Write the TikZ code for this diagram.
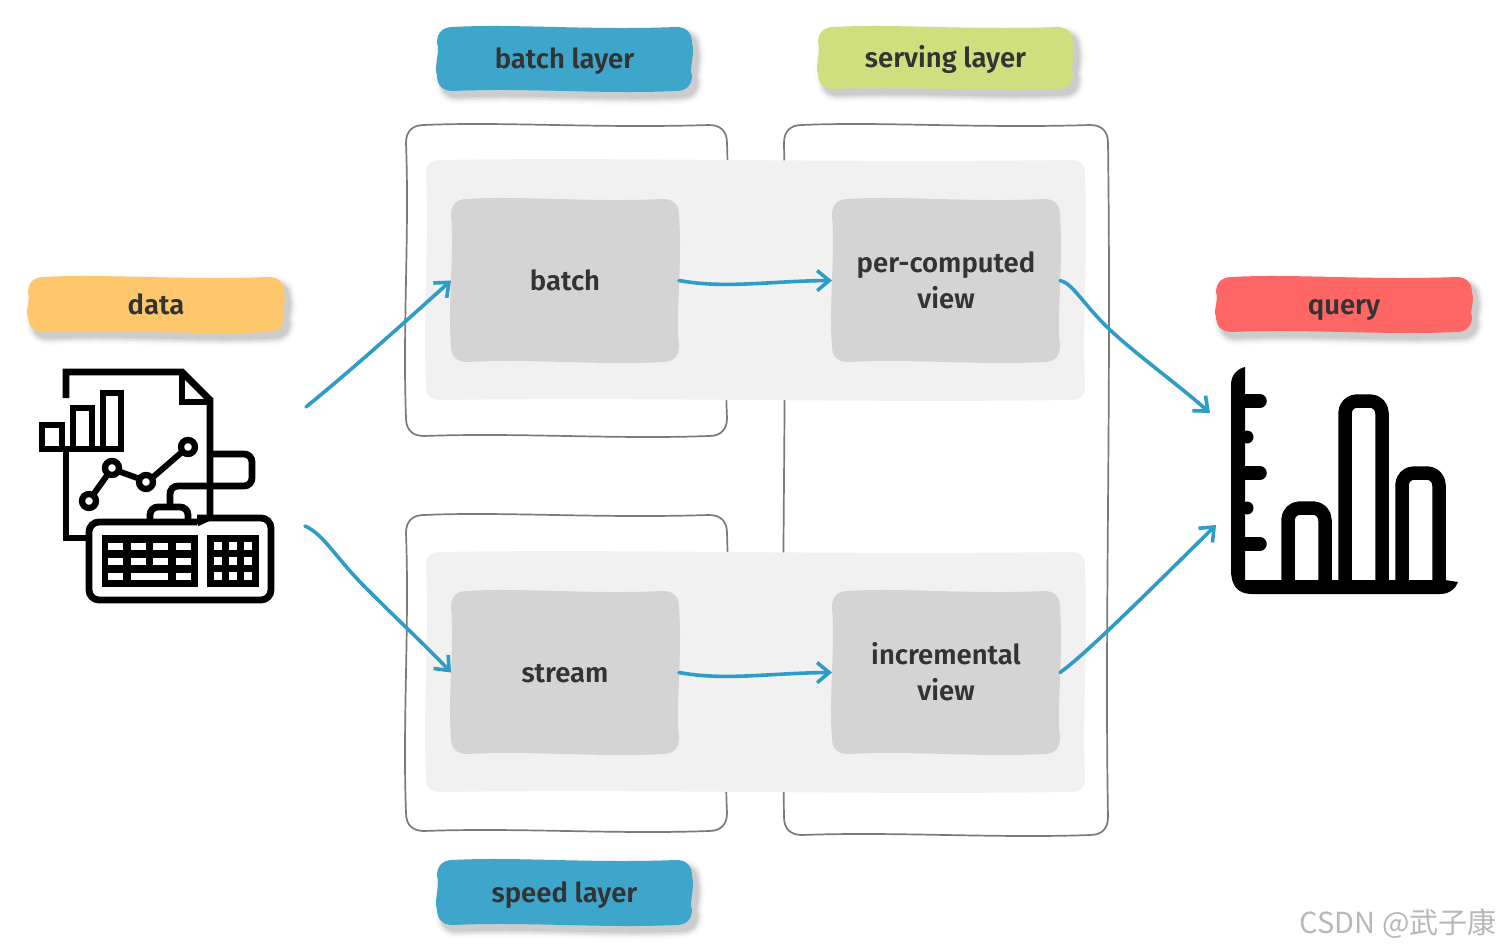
\documentclass[tikz,border=0pt]{standalone}
\usepackage{fontspec}
\setmainfont{Fira Sans}[UprightFont=* SemiBold,BoldFont=* Bold]
\newfontfamily\cjkwm{Noto Sans CJK SC}
\usetikzlibrary{arrows.meta}
\definecolor{cblue}{HTML}{3EA6CB}
\definecolor{cgreen}{HTML}{D0DF7E}
\definecolor{corange}{HTML}{FFC76B}
\definecolor{cred}{HTML}{FF6666}
\definecolor{clight}{HTML}{F1F1F1}
\definecolor{cinner}{HTML}{D4D4D4}
\definecolor{cframe}{HTML}{7A7A7A}
\definecolor{carrow}{HTML}{2E9CC7}
\definecolor{ctext}{HTML}{333333}
\newcommand\blobset[6]{%
  \pgfmathsetmacro\bxa{#1}\pgfmathsetmacro\bya{#2}\pgfmathsetmacro\bxb{#3}\pgfmathsetmacro\byb{#4}%
  \pgfmathsetmacro\brr{#5}\def\bam{#6}%
  \pgfmathsetmacro\bw{\bxb-\bxa}\pgfmathsetmacro\bh{\byb-\bya}}
\newcommand\blobdo[1]{%
  \path[#1] ({\bxa+\brr},\bya)
   .. controls ({\bxa+.3*\bw},{\bya-\bam}) and ({\bxa+.6*\bw},{\bya+\bam}) .. ({\bxb-\brr},\bya)
   .. controls ({\bxb-.35*\brr},\bya) and (\bxb,{\bya+.35*\brr}) .. (\bxb,{\bya+\brr})
   .. controls ({\bxb+\bam},{\bya+.4*\bh}) and ({\bxb-\bam},{\bya+.7*\bh}) .. (\bxb,{\byb-\brr})
   .. controls (\bxb,{\byb-.35*\brr}) and ({\bxb-.35*\brr},\byb) .. ({\bxb-\brr},\byb)
   .. controls ({\bxa+.65*\bw},{\byb+\bam}) and ({\bxa+.35*\bw},{\byb-\bam}) .. ({\bxa+\brr},\byb)
   .. controls ({\bxa+.35*\brr},\byb) and (\bxa,{\byb-.35*\brr}) .. (\bxa,{\byb-\brr})
   .. controls ({\bxa-\bam},{\bya+.65*\bh}) and ({\bxa+\bam},{\bya+.35*\bh}) .. (\bxa,{\bya+\brr})
   .. controls (\bxa,{\bya+.35*\brr}) and ({\bxa+.35*\brr},\bya) .. ({\bxa+\brr},\bya) -- cycle;}
% [extra] name, x1,y1,x2,y2, colour, text
\newcommand\boxnode[8][]{%
  \blobset{#3}{#4}{#5}{#6}{16}{3.5}\blobdo{fill=#7}%
  \node[txt,#1,minimum width=#5pt-#3pt,minimum height=#6pt-#4pt] (#2) at ({(#3+#5)/2},{(#4+#6)/2}) {#8};}
\newcommand\tagnode[7]{%
  \blobset{#2}{#3}{#4}{#5}{16}{3.5}%
  \blobdo{shift={(5,6)},fill=black!2,draw=black!2,line width=14pt,line join=round}%
  \blobdo{shift={(5,6)},fill=black!5,draw=black!5,line width=10pt,line join=round}%
  \blobdo{shift={(5,6)},fill=black!10,draw=black!10,line width=7pt,line join=round}%
  \blobdo{shift={(5,6)},fill=black!15,draw=black!15,line width=4pt,line join=round}%
  \blobdo{shift={(5,6)},fill=black!20,draw=black!20,line width=1pt,line join=round}%
  \blobdo{fill=#6}%
  \node[txt,minimum width=#4pt-#2pt,minimum height=#5pt-#3pt] (#1) at ({(#2+#4)/2},{(#3+#5)/2}) {#7};}
\newcommand\frameblob[4]{\blobset{#1}{#2}{#3}{#4}{18}{3.5}\blobdo{draw=cframe,line width=1.7pt}}
\tikzset{
  txt/.style={inner sep=0pt,outer sep=0pt,align=center,text=ctext,text height=20pt,text depth=0pt,font=\fontsize{27.5}{36}\selectfont},
  twolines/.style={text height=55pt},
  conn/.style={draw=carrow,line width=3.6pt,line cap=round,-{Straight Barb[length=12pt,width=20pt,line width=3.6pt]}},
  ico/.style={draw=black,line width=6.8pt,line join=miter},
  icb/.style={draw=black,line width=13.5pt,line cap=round,line join=round},
}
\begin{document}
\begin{tikzpicture}[x=1pt,y=-1pt]
\useasboundingbox[fill=white] (0,0) rectangle (1500,950);
% frames
\frameblob{406}{125}{727}{436}
\frameblob{406}{515}{727}{831}
\frameblob{784}{125}{1108}{835}
% light panels
\blobset{426}{160}{1085}{400}{14}{3}\blobdo{fill=clight}
\blobset{426}{552}{1085}{792}{14}{3}\blobdo{fill=clight}
% process boxes
\boxnode{batch}{451}{199}{679}{362}{cinner}{batch}
\boxnode[twolines]{perview}{832}{199}{1060}{362}{cinner}{per-computed\\view}
\boxnode{stream}{451}{591}{679}{754}{cinner}{stream}
\boxnode[twolines]{incview}{832}{591}{1060}{754}{cinner}{incremental\\view}
% tags
\tagnode{tbatch}{437}{27}{692}{91}{cblue}{batch layer}
\tagnode{tserving}{818}{27}{1073}{89}{cgreen}{serving layer}
\tagnode{tdata}{28}{277}{284}{332}{corange}{data}
\tagnode{tquery}{1216}{277}{1472}{332}{cred}{query}
\tagnode{tspeed}{437}{860}{692}{925}{cblue}{speed layer}
% data icon
\begin{scope}
\draw[ico] (66,398) -- (66,372) -- (182,372) -- (210,400) -- (210,517) -- (197,523);
\draw[ico] (182,372) -- (182,402) -- (210,402);
\draw[ico] (66,450) -- (66,538) -- (90,538);
\draw[ico] (42,449) rectangle (62,425);
\draw[ico] (62,449) -- (121,449) -- (121,393) -- (103,393) -- (103,449);
\draw[ico] (73,449) -- (73,408) -- (92,408) -- (92,449);
\draw[ico,line width=6.3pt] (89,501) circle (7) (112,468) circle (7) (146,482) circle (7) (188,447) circle (7);
\draw[ico,line width=6pt] (93,495) -- (108,474) (118,471) -- (140,479) (152,478) -- (182,452);
\draw[ico,rounded corners=8pt] (210,454) -- (252,454) -- (252,486) -- (170,486) -- (170,507);
\draw[ico,rounded corners=8pt] (150,520) -- (150,507) -- (188,507) -- (188,520);
\draw[ico,rounded corners=10pt] (197,518) -- (271,518) -- (271,600) -- (89,600) -- (89,522) -- (197,522);
\fill (102,535) rectangle (198,587);
\fill (207,535) rectangle (259,587);
\foreach \ky in {542.5,557.5}{
  \foreach \kx in {108,131,153,176}{\fill[white] (\kx,\ky) rectangle ++(15,7.5);}}
\fill[white] (108,572.5) rectangle ++(15,7.5);
\fill[white] (131,572.5) rectangle ++(37,7.5);
\fill[white] (176,572.5) rectangle ++(15,7.5);
\foreach \ky in {542,557,572}{
  \foreach \kx in {214,229,244}{\fill[white] (\kx,\ky) rectangle ++(8,8);}}
\end{scope}
% chart icon
\begin{scope}
\fill (1231,572) -- (1231,385) .. controls (1231,375) and (1237,369) .. (1245,367) -- (1245,582) -- cycle;
\fill (1231,570) .. controls (1231,586) and (1238,594) .. (1252,594) -- (1440,594) .. controls (1450,594) and (1456,588) .. (1458,582) -- (1445,580) -- (1245,580) -- cycle;
\draw[icb] (1240,401) -- (1260,401) (1240,473) -- (1260,473) (1240,544) -- (1260,544);
\fill (1247,437) circle (6.5) (1247,508) circle (6.5);
\draw[icb,rounded corners=12pt,line cap=butt] (1288,585) -- (1288,508) -- (1325,508) -- (1325,585);
\draw[icb,rounded corners=12pt,line cap=butt] (1345,585) -- (1345,401) -- (1382,401) -- (1382,585);
\draw[icb,rounded corners=12pt,line cap=butt] (1402,585) -- (1402,473) -- (1439,473) -- (1439,585);
\end{scope}
% connector ends
\coordinate (dataup) at (306,407);
\coordinate (datadown) at (305,526);
\coordinate (queryup) at (1210,413);
\coordinate (querydown) at (1216,525);
% connectors
\draw[conn] (dataup) .. controls (355,367) and (405,322) .. (batch.west);
\draw[conn] (datadown) .. controls (325,535) and (335,558) .. (370,592) .. controls (400,622) and (430,650) .. (stream.west);
\draw[conn] (batch.east) .. controls (725,289) and (770,281) .. (perview.west);
\draw[conn] (stream.east) .. controls (725,681) and (770,673) .. (incview.west);
\draw[conn] (perview.east) .. controls (1072,283) and (1082,302) .. (1105,325) .. controls (1130,350) and (1175,382) .. (queryup);
\draw[conn] (incview.east) .. controls (1085,655) and (1150,590) .. (querydown);
% watermark
\node[inner sep=0pt,anchor=east,text=black!28,font=\cjkwm\fontsize{29}{32}\selectfont] (wm) at (1497,924) {CSDN @武子康};
\end{tikzpicture}
\end{document}
